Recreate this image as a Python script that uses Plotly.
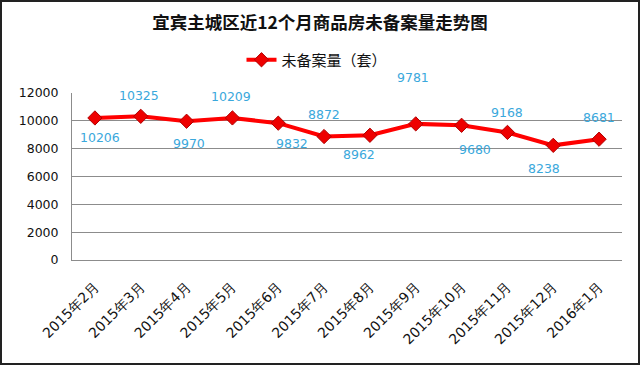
import plotly.graph_objects as go

months = ["2015年2月", "2015年3月", "2015年4月", "2015年5月", "2015年6月", "2015年7月",
          "2015年8月", "2015年9月", "2015年10月", "2015年11月", "2015年12月", "2016年1月"]
unsold = [10206, 10325, 9970, 10209, 9832, 8872, 8962, 9781, 9680, 9168, 8238, 8681]
y_ticks = [0, 2000, 4000, 6000, 8000, 10000, 12000]

# label offsets (px) for data labels, matching the reference placement
label_dx = [5, -2, 2, -1, 14, 0, -11, -3, 13, 0, -9, 0]
label_dy = [-20, 21, -22, 21, -20, 22, -19, 46, -24, 20, -23, 22]

fig = go.Figure()
fig.add_trace(go.Scatter(
    x=months, y=unsold, mode="lines+markers", name="未备案量（套）",
    line=dict(color="#ff0000", width=4),
    marker=dict(symbol="diamond", size=11, color="#ee0000",
                line=dict(color="#b00000", width=1)),
))

for m, v, dx, dy in zip(months, unsold, label_dx, label_dy):
    fig.add_annotation(x=m, y=v, text=str(v), showarrow=False,
                       xshift=dx, yshift=dy,
                       font=dict(family="DejaVu Sans", size=12.5, color="#3aa8dc"))

W, H = 640, 365
L, R, T, B = 72, 18, 93, 105
pw, ph = W - L - R, H - T - B
fig.add_shape(type="rect", xref="paper", yref="paper",
              x0=(1 - L) / pw, x1=(W - 1 - L) / pw,
              y0=-(B - 1) / ph, y1=(H - B - 1) / ph,
              line=dict(color="#222222", width=2), fillcolor="rgba(0,0,0,0)")

fig.update_layout(
    width=W, height=H,
    margin=dict(l=L, r=R, t=T, b=B, autoexpand=False),
    paper_bgcolor="white", plot_bgcolor="white",
    title=dict(text="<b>宜宾主城区近12个月商品房未备案量走势图</b>",
               x=0.5, xanchor="center", y=1 - 23 / H, yanchor="middle",
               font=dict(family="Noto Sans CJK SC", size=17.5, color="#111111")),
    showlegend=True,
    legend=dict(orientation="h", xref="container", yref="container",
                x=317 / W, xanchor="center", y=1 - 60 / H, yanchor="middle",
                itemwidth=30,
                font=dict(family="Noto Sans CJK SC", size=15, color="#111111"),
                bgcolor="rgba(0,0,0,0)"),
    xaxis=dict(type="category", range=[-0.5, 11.5], tickangle=-45,
               showgrid=False, showline=True, linecolor="#8c8c8c", linewidth=1,
               ticks="", ticklabelstandoff=12, automargin=False,
               tickfont=dict(family="DejaVu Sans", size=14, color="#111111")),
    yaxis=dict(range=[0, 12000], tickvals=y_ticks, ticktext=[str(t) for t in y_ticks],
               showgrid=True, gridcolor="#8c8c8c", gridwidth=1,
               showline=True, linecolor="#8c8c8c", linewidth=1,
               zeroline=False, ticks="", ticklabelstandoff=10, automargin=False,
               tickfont=dict(family="DejaVu Sans", size=12.5, color="#111111")),
)

fig.write_html("out.html", config={"displayModeBar": False},
               post_script="document.body.style.margin='0';document.body.style.overflow='hidden';")
